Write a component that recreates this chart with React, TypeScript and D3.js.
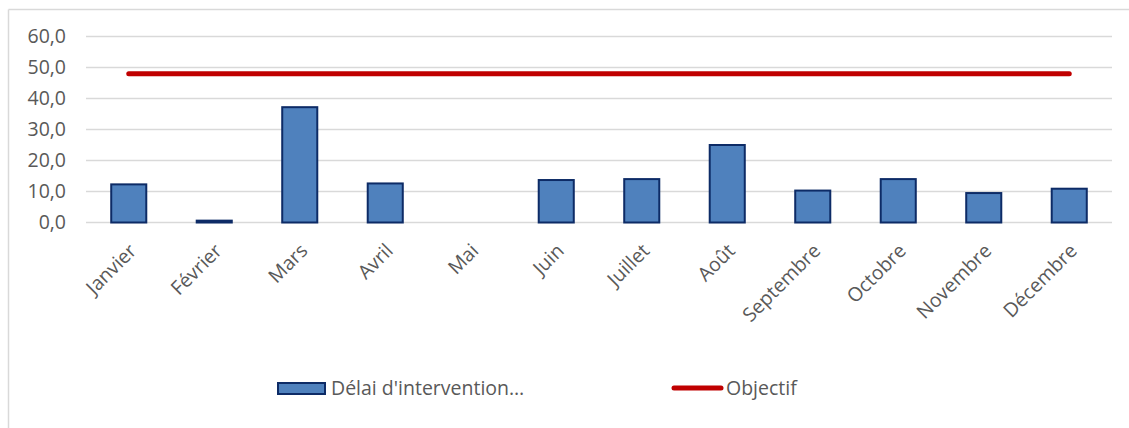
import React from "react";
import * as d3 from "d3";

const months = ["Janvier", "Février", "Mars", "Avril", "Mai", "Juin", "Juillet", "Août", "Septembre", "Octobre", "Novembre", "Décembre"];
const delai = [12.3, 0.6, 37.2, 12.6, 0, 13.7, 14.0, 25.0, 10.3, 14.0, 9.5, 10.9];
const objectif = [48, 48, 48, 48, 48, 48, 48, 48, 48, 48, 48, 48];
const yTicks = [0, 10, 20, 30, 40, 50, 60];
const seriesNames = ["Délai d'intervention…", "Objectif"];

const W = 1129;
const H = 428;
const FONT = "'Open Sans', sans-serif";
const TEXT = "#595959";
const FS = 19.5;

export default function App() {
  const x = d3.scaleBand<string>().domain(months).range([86, 1112]).paddingInner(0.59).paddingOuter(0.295);
  const xc = d3.scaleBand<string>().domain(months).range([86, 1112]);
  const y = d3.scaleLinear().domain([0, 60]).range([222.5, 36.5]);
  const fmt = (v: number) => v.toFixed(1).replace(".", ",");
  const line = d3
    .line<number>()
    .x((_, i) => (xc(months[i]) as number) + xc.bandwidth() / 2)
    .y((d) => y(d));

  return (
    <svg width={W} height={H} style={{ position: "absolute", left: 0, top: 0 }}>
      <rect x={0} y={0} width={W} height={H} fill="#fff" />
      <line x1={8.5} y1={9.5} x2={1129} y2={9.5} stroke="#d9d9d9" strokeWidth={1.5} />
      <line x1={8.5} y1={9.5} x2={8.5} y2={428} stroke="#d9d9d9" strokeWidth={1.5} />
      {yTicks.map((t) => (
        <g key={t}>
          <line x1={86} x2={1112} y1={y(t)} y2={y(t)} stroke="#d9d9d9" strokeWidth={1.5} />
          <text x={66} y={y(t)} dy="0.35em" textAnchor="end" fontFamily={FONT} fontSize={FS} fill={TEXT}>
            {fmt(t)}
          </text>
        </g>
      ))}
      {months.map((m, i) =>
        delai[i] > 0 ? (
          <rect
            key={m}
            x={x(m) as number}
            y={y(delai[i])}
            width={x.bandwidth()}
            height={y(0) - y(delai[i])}
            fill="#4f81bd"
            stroke="#0d2b66"
            strokeWidth={2}
          />
        ) : null
      )}
      <path d={line(objectif) as string} fill="none" stroke="#c00000" strokeWidth={5} strokeLinecap="round" />
      {months.map((m) => {
        const cx = (xc(m) as number) + xc.bandwidth() / 2 + 9;
        const cy = 252;
        return (
          <text
            key={m}
            x={cx}
            y={cy}
            textAnchor="end"
            transform={`rotate(-45 ${cx} ${cy})`}
            fontFamily={FONT}
            fontSize={FS}
            fill={TEXT}
          >
            {m}
          </text>
        );
      })}
      <rect x={278} y={383} width={47} height={11} fill="#4f81bd" stroke="#0d2b66" strokeWidth={2} />
      <text x={331} y={388.5} dy="0.35em" fontFamily={FONT} fontSize={FS} fill={TEXT}>
        {seriesNames[0]}
      </text>
      <line x1={674} x2={721} y1={388} y2={388} stroke="#c00000" strokeWidth={5} strokeLinecap="round" />
      <text x={726} y={388.5} dy="0.35em" fontFamily={FONT} fontSize={FS} fill={TEXT}>
        {seriesNames[1]}
      </text>
    </svg>
  );
}
